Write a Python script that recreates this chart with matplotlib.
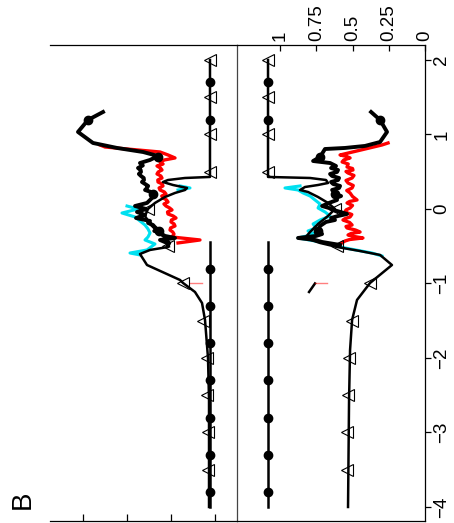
import numpy as np
import matplotlib
matplotlib.use('Agg')
import matplotlib.pyplot as plt

plt.rcParams['font.family'] = ['Liberation Sans', 'DejaVu Sans']

nan = np.nan

# ---- right panel (values 0..1) ----
r_tri_pos = [2.0, 0.43, 0.416, 0.389, 0.349, 0.322, 0.295, 0.255, 0.228, 0.161, 0.081, 0.0,
             -0.094, -0.201, -0.309, -0.389, -0.456, -0.510, -0.564, -0.617, -0.752, -0.993,
             -1.221, -1.490, -1.893, -2.564, -4.0]
r_tri_val = [1.083, 1.083, 0.793, 0.683, 0.669, 0.738, 0.828, 0.862, 0.807, 0.738, 0.669, 0.621,
             0.669, 0.738, 0.793, 0.828, 0.724, 0.607, 0.448, 0.310, 0.228, 0.379,
             0.469, 0.503, 0.517, 0.524, 0.531]
r_tri_mk_pos = [2, 1.5, 1, 0.5, 0, -0.5, -1, -1.5, -2, -2.5, -3, -3.5]
r_tri_mk_val = [1.083, 1.083, 1.083, 1.083, 0.621, 0.607, 0.379, 0.503, 0.524, 0.531, 0.538, 0.538]

r_flat_pos = [-4.0, -0.44]
r_flat_val = [1.083, 1.083]
flat_mk_pos = [1.7, 1.2, -0.8, -1.3, -1.8, -2.3, -2.8, -3.3, -3.8]
r_flat_mk_val = [1.083] * 9

r_blk_pos = [1.302, 1.195, 1.034, 0.899, 0.846, 0.819, 0.805, 0.698, 0.644, 0.617, 0.577, 0.550,
             0.523, 0.497, 0.470, 0.443, 0.416, 0.389, 0.362, 0.336, 0.309, 0.282, 0.255, 0.228,
             0.201, 0.174, 0.148, 0.121, 0.081, 0.040, 0.013,
             -0.013, -0.040, -0.067, -0.094, -0.121, -0.148, -0.174, -0.228, -0.282, -0.336,
             -0.362, -0.389, -0.416, -0.443, -0.483]
r_blk_val = [0.372, 0.310, 0.262, 0.310, 0.414, 0.552, 0.690, 0.724, 0.772, 0.655, 0.614, 0.648,
             0.600, 0.607, 0.655, 0.641, 0.593, 0.600, 0.648, 0.634, 0.586, 0.593, 0.641, 0.628,
             0.621, 0.579, 0.614, 0.607, 0.662, 0.710, 0.662,
             0.634, 0.583, 0.538, 0.600, 0.648, 0.621, 0.683, 0.724, 0.738, 0.710,
             0.752, 0.876, 0.759, 0.710, 0.586]
blk_mk_pos = [1.2, 0.7, 0.2, -0.3]
r_blk_mk_val = [0.310, 0.724, 0.621, 0.738]

r_red_pos = [0.886, 0.859, 0.725, 0.705, 0.685, 0.658, 0.631, 0.604, 0.564, 0.543, 0.523, 0.503,
             0.483, 0.450, 0.416, 0.383, 0.349, 0.315, 0.282, 0.248, 0.215, 0.168,
             0.121, 0.101, 0.081, 0.047, 0.013, -0.013, -0.040, -0.074, -0.107, -0.128, -0.148,
             -0.181, -0.215, -0.235, -0.255, -0.282, -0.309, -0.329, -0.349, -0.369,
             -0.389, -0.410, -0.430, -0.470]
r_red_val = [0.255, 0.297, 0.586, 0.540, 0.517, 0.560, 0.572, 0.530, 0.538, 0.500, 0.497, 0.545,
             0.531, 0.490, 0.503, 0.545, 0.531, 0.495, 0.503, 0.540, 0.517, 0.500,
             0.469, 0.520, 0.538, 0.500, 0.517, 0.545, 0.552, 0.505, 0.517, 0.550, 0.566,
             0.520, 0.503, 0.545, 0.538, 0.480, 0.448, 0.510, 0.531, 0.490,
             0.428, 0.520, 0.552, 0.586]

r_cyan_pos = [0.309, 0.282, 0.255, 0.215, 0.174, 0.121, 0.067, 0.013, -0.040, -0.094, -0.148,
              -0.201, -0.255, -0.295, -0.336, -0.389, -0.430, -0.470, -0.523, -0.591, -0.631]
r_cyan_val = [0.862, 0.966, 0.876, 0.841, 0.793, 0.759, 0.724, 0.738, 0.690, 0.655, 0.724,
              0.772, 0.752, 0.807, 0.759, 0.876, 0.759, 0.655, 0.552, 0.366, 0.297]

r_frag_blk_pos = [-1.114, -1.0]
r_frag_blk_val = [0.800, 0.759]
r_frag_red_pos = [-0.993, -0.993]
r_frag_red_val = [0.759, 0.676]

# ---- left panel ----
l_tri_pos = [2.0, 0.43, 0.416, 0.389, 0.362, 0.322, 0.282, 0.255, 0.215, 0.161, 0.081, 0.0,
             -0.094, -0.201, -0.309, -0.389, -0.456, -0.510, -0.550, -0.604, -0.752, -0.953,
             -0.993, -1.114, -1.262, -1.490, -2.0, -2.564, -4.0]
l_tri_val = [1.114, 1.114, 1.682, 2.068, 2.182, 1.955, 1.636, 1.682, 1.909, 2.136, 2.364, 2.523,
             2.591, 2.477, 2.295, 2.136, 2.023, 2.068, 2.477, 2.705, 2.545, 1.795,
             1.727, 1.455, 1.295, 1.227, 1.159, 1.136, 1.136]
l_tri_mk_val = [1.114, 1.114, 1.114, 1.114, 2.523, 2.068, 1.727, 1.273, 1.182, 1.182, 1.159, 1.159]

l_flat_pos = [-4.0, -0.44]
l_flat_val = [1.114, 1.114]
l_flat_mk_val = [1.114] * 9

l_blk_pos = [1.302, 1.195, 1.034, 0.886, 0.819, 0.765, 0.711, 0.658, 0.617, 0.584, 0.550, 0.523,
             0.497, 0.470, 0.443, 0.416, 0.389, 0.362, 0.336, 0.309, 0.282, 0.255, 0.228, 0.201,
             0.161, 0.121, 0.081, 0.040, 0.0, -0.040, -0.081, -0.121, -0.161, -0.188, -0.215,
             -0.241, -0.268, -0.295, -0.322, -0.362, -0.389, -0.416, -0.456, -0.497]
l_blk_val = [3.545, 3.886, 4.114, 3.773, 3.227, 2.636, 2.295, 2.477, 2.705, 2.640, 2.750, 2.690,
             2.682, 2.730, 2.682, 2.620, 2.614, 2.660, 2.591, 2.520, 2.545, 2.590, 2.455, 2.409,
             2.409, 2.477, 2.545, 2.818, 2.568, 2.773, 2.591, 2.795, 2.477, 2.520, 2.409,
             2.370, 2.318, 2.380, 2.250, 2.136, 1.909, 2.250, 2.091, 2.068]
l_blk_mk_val = [3.886, 2.295, 2.409, 2.270]

l_red_pos = [0.859, 0.832, 0.765, 0.725, 0.685, 0.658, 0.631, 0.604, 0.577, 0.550, 0.523, 0.497,
             0.470, 0.443, 0.416, 0.389, 0.362, 0.336, 0.309, 0.282, 0.255, 0.228, 0.201, 0.174,
             0.148, 0.121, 0.094, 0.067, 0.040, 0.013, -0.013, -0.040, -0.067, -0.094, -0.121,
             -0.148, -0.174, -0.201, -0.228, -0.255, -0.282, -0.309, -0.336, -0.376, -0.416, -0.456]
l_red_val = [3.614, 3.500, 2.250, 2.068, 1.909, 2.150, 2.250, 2.180, 2.318, 2.240, 2.205, 2.290,
             2.318, 2.230, 2.205, 2.300, 2.295, 2.200, 2.182, 2.270, 2.250, 2.150, 2.114, 2.210,
             2.182, 2.100, 2.068, 2.160, 2.114, 2.030, 1.977, 2.080, 2.068, 1.950, 1.886,
             1.990, 2.000, 1.930, 1.909, 2.010, 2.023, 1.960, 1.932, 1.977, 1.341, 1.841]

l_cyan_pos = [0.309, 0.282, 0.255, nan, 0.040, 0.0, -0.054, -0.107, -0.161, -0.215, -0.268,
              -0.322, -0.376, -0.416, -0.470, -0.550, -0.591, -0.617]
l_cyan_val = [1.795, 1.568, 1.841, nan, 3.000, 2.750, 3.114, 2.818, 2.705, 2.591, 2.523,
              2.477, 2.523, 2.591, 2.364, 2.545, 2.932, 2.705]

l_frag_red_pos = [-0.993, -0.993]
l_frag_red_val = [1.568, 1.295]

pos_ticks = [-4, -3, -2, -1, 0, 1, 2]
r_ticks = [0, 0.25, 0.5, 0.75, 1]
r_tick_labels = ['0', '0.25', '0.5', '0.75', '1']
l_ticks = [1, 2, 3, 4]

W, H = 454, 523
fig = plt.figure(figsize=(W / 100, H / 100), dpi=100)
axL = fig.add_axes([50 / W, 2 / H, 187 / W, 476 / H])
axR = fig.add_axes([237 / W, 2 / H, 188 / W, 476 / H])

RED = '#ff0000'
CYAN = '#00e0f0'


def draw(ax, red, cyan, blk, tri, flat, tri_mk, flat_mk, blk_mk):
    ax.plot(red[1], red[0], color=RED, lw=2.4, zorder=2)
    ax.plot(cyan[1], cyan[0], color=CYAN, lw=2.2, zorder=2)
    ax.plot(blk[1], blk[0], color='black', lw=2.8, zorder=3)
    ax.plot(tri[1], tri[0], color='black', lw=1.8, zorder=3)
    ax.plot(flat[1], flat[0], color='black', lw=1.8, zorder=3)
    ax.plot(tri_mk[1], tri_mk[0], ls='none', marker='<', ms=8.5, mfc='none',
            mec='black', mew=0.8, zorder=4)
    ax.plot(flat_mk[1], flat_mk[0], ls='none', marker='o', ms=6, color='black', zorder=4)
    ax.plot(blk_mk[1], blk_mk[0], ls='none', marker='o', ms=6, color='black', zorder=4)


draw(axR, (r_red_pos, r_red_val), (r_cyan_pos, r_cyan_val), (r_blk_pos, r_blk_val),
     (r_tri_pos, r_tri_val), (r_flat_pos, r_flat_val), (r_tri_mk_pos, r_tri_mk_val),
     (flat_mk_pos, r_flat_mk_val), (blk_mk_pos, r_blk_mk_val))
axR.plot(r_frag_blk_val, r_frag_blk_pos, color='black', lw=1.8)
axR.plot(r_frag_red_val, r_frag_red_pos, color=RED, lw=1, alpha=0.5)

draw(axL, (l_red_pos, l_red_val), (l_cyan_pos, l_cyan_val), (l_blk_pos, l_blk_val),
     (l_tri_pos, l_tri_val), (l_flat_pos, l_flat_val), (r_tri_mk_pos, l_tri_mk_val),
     (flat_mk_pos, l_flat_mk_val), (blk_mk_pos, l_blk_mk_val))
axL.plot(l_frag_red_val, l_frag_red_pos, color=RED, lw=1, alpha=0.5)

for ax in (axL, axR):
    ax.set_ylim(-4.188, 2.201)
    for s in ax.spines.values():
        s.set_linewidth(0.9)

axR.set_xlim(1.297, 0)
axL.set_xlim(4.75, 0.5)

# left panel: only top/bottom frame, unlabeled inward ticks at the bottom
axL.spines['left'].set_visible(False)
axL.spines['right'].set_visible(False)
axL.set_yticks([])
axL.set_xticks(l_ticks)
axL.tick_params(axis='x', direction='in', length=5, width=0.9, labelbottom=False)

axR.spines['left'].set_color('#444444')
axR.xaxis.tick_top()
axR.set_xticks(r_ticks)
axR.set_xticklabels(r_tick_labels)
axR.tick_params(axis='x', direction='in', length=4, width=0.9, labelrotation=90,
                labelsize=13.5, pad=3)
axR.yaxis.tick_right()
axR.set_yticks(pos_ticks)
axR.tick_params(axis='y', direction='out', length=4, width=0.9, labelrotation=90,
                labelsize=13.5, pad=2)
for lab in axR.get_yticklabels():
    lab.set_verticalalignment('center')

fig.text(23 / W, 1 - 500 / H, 'B', rotation=90, fontsize=20, ha='center', va='center')

fig.savefig('out.png', dpi=100)
